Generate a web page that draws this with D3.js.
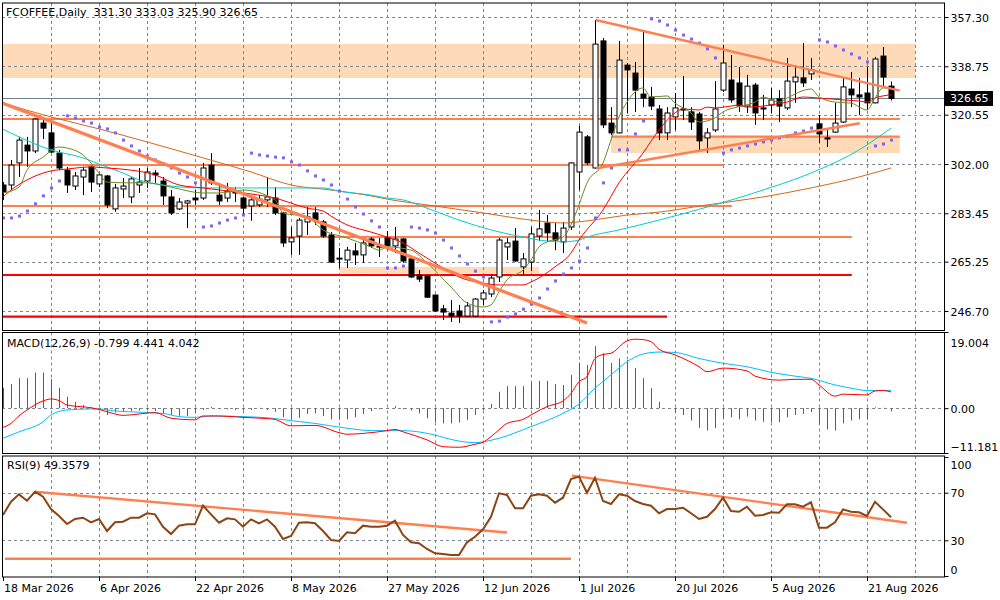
<!DOCTYPE html>
<html>
<head>
<meta charset="utf-8">
<script src="https://cdn.jsdelivr.net/npm/d3@7"></script>
<style>
  body { margin: 0; background: #fff; }
  svg text { font-family: "DejaVu Sans", sans-serif; font-size: 11px; fill: #000; }
</style>
</head>
<body>
<div id="chart"></div>
<script>
// ---- data (bar index 0 = 18 Mar 2026) ----
const opens = [294.1,294.1,302.4,309.1,306.9,317.4,313.7,306.1,299.7,293.7, 297.1,300.9,294.5,297.5,285.1,292.6,289.6,294.1,295.6,298.6,
  295.6,289.6,285.1,287.3,289.2,289.2,301.6,290.3,289.2,291.5, 289.2,286.2,286.6,288.5,289.2,283.6,272.7,274.9,280.2,283.6,
  280.2,275.3,266.6,265.9,269.3,267.8,273.8,270.8,274.2,271.2, 273.8,266.3,260.2,259.9,252.7,247.5,245.9,246.7,244.8,244.8,
  251.2,253.1,259.5,270.8,273.0,263.3,265.1,274.9,279.8,276.1, 272.7,278.3,299.0,312.2,300.5,348.3,317.4,313.7,339.2,336.2,
  328.3,327.2,322.7,313.7,319.7,322.7,321.6,320.8,311.8,314.8, 329.8,333.6,332.5,323.8,331.7,323.1,324.2,326.5,323.1,332.9,
  334.4,335.9,317.1,311.8,314.0,317.8,330.2,328.0,328.7,325.0, 342.6,331.30];
const highs = [295.2,303.5,312.2,312.2,319.3,318.9,317.4,307.3,300.9,299.0, 300.9,301.3,298.6,297.9,294.5,296.7,297.1,300.5,300.5,299.7,
  297.1,292.2,289.2,288.5,292.2,302.4,306.1,294.9,294.9,293.3, 289.6,290.3,290.3,297.1,293.3,284.0,278.3,281.7,285.8,285.8,
  280.9,276.4,270.4,270.8,272.3,274.2,274.5,274.2,276.8,278.3, 274.2,266.5,262.1,260.2,252.9,249.0,250.8,249.0,250.1,251.6,
  254.6,260.6,274.2,274.2,277.9,268.5,278.3,284.7,282.8,279.8, 280.2,302.6,316.3,312.9,356.2,349.4,323.4,348.3,340.0,340.4,
  352.0,331.0,324.2,323.4,328.7,335.1,323.4,321.6,315.5,333.2, 346.8,343.0,338.5,335.5,332.5,328.0,330.6,329.8,341.9,339.2,
  347.5,341.9,320.4,314.8,325.0,334.7,336.6,334.4,338.5,342.3, 346.0,333.03];
const lows = [288.5,292.2,297.1,300.9,306.1,311.4,306.1,299.7,291.1,292.2, 290.3,291.5,293.3,285.4,284.0,289.2,287.3,291.1,293.0,294.9,
  286.6,282.8,284.7,277.9,286.6,288.5,294.1,286.6,287.7,287.7, 282.8,280.6,285.8,285.8,282.8,270.8,267.8,267.8,275.3,279.1,
  274.2,264.8,262.9,262.9,264.0,264.8,270.4,267.0,269.6,268.5, 264.8,259.1,257.6,251.6,246.3,243.3,242.6,242.2,244.6,244.4,
  249.0,252.0,257.6,265.9,265.3,260.2,261.7,273.0,272.7,269.6, 268.5,277.2,292.2,301.6,300.3,315.5,312.9,313.5,321.2,321.6,
  323.4,322.3,311.0,311.0,314.8,318.6,314.8,307.3,306.1,314.0, 329.1,325.0,321.6,321.2,316.7,318.6,321.2,317.8,322.3,325.0,
  331.0,333.6,309.9,308.4,313.7,317.4,323.4,320.4,322.3,324.8, 330.6,325.90];
const closes = [291.5,301.6,311.0,306.9,318.9,315.5,306.5,300.5,294.1,297.5, 299.7,295.2,297.9,286.6,293.0,293.7,296.4,295.2,299.0,297.9,
  290.0,283.6,287.7,288.1,288.5,300.5,294.9,288.1,291.8,291.1, 285.4,288.5,288.8,289.6,283.6,272.3,274.2,280.9,282.1,280.9,
  274.9,265.1,266.3,269.6,267.8,272.3,271.2,271.1,271.2,273.8, 265.5,259.5,258.7,251.9,246.7,246.3,244.8,244.8,248.6,251.2,
  253.5,259.1,273.4,272.3,265.5,266.3,275.7,277.6,276.1,273.4, 277.9,302.4,314.0,302.4,347.1,316.7,313.7,341.1,337.4,329.8,
  326.8,323.8,313.7,321.2,323.1,322.3,317.8,310.7,313.7,322.7, 340.0,326.1,323.8,331.3,321.2,322.7,326.1,323.8,333.2,334.7,
  332.5,337.4,313.3,311.4,317.4,331.0,328.0,327.2,325.0,341.5, 334.7,326.65];

// parabolic SAR, one per bar
const sar = [281.7,281.7,282.4,284.3,287.0,290.0,293.0,295.6,320.1,319.3, 318.2,317.4,315.9,315.2,313.7,311.0,308.8,306.9,305.0,303.5,
  302.0,300.5,298.6,297.1,294.9,278.3,278.7,279.8,280.9,281.7, 282.8,306.1,305.4,305.0,304.6,304.3,302.8,301.6,299.4,297.5,
  296.0,294.1,291.8,288.8,285.8,283.2,280.6,278.3,262.9,262.9, 263.6,278.3,277.9,277.2,276.0,273.4,270.4,267.4,264.4,261.7,
  259.5,242.6,242.9,244.4,245.6,247.4,249.3,251.6,255.0,258.0, 260.6,262.9,265.5,270.4,281.7,294.9,300.5,307.3,307.3,313.3,
  318.2,356.6,355.8,354.3,352.4,350.5,349.0,347.5,345.3,341.9, 306.1,307.3,308.0,308.8,309.5,310.3,311.0,311.8,312.5,313.7,
  314.4,315.5,348.7,347.9,346.4,344.9,343.4,341.9,340.4,308.8, 309.5,311.0];

// moving averages, [bar, price] read at intervals
const maRed = [[0,289.6],[1,292.2],[3,296.0],[6,299.4],[8,300.1],[11,300.9],[13,300.5],[16,299.7],[19,297.9],[22,294.1],[25,293.0],
  [29,291.5],[32,290.3],[34,289.2],[36,287.3],[38,285.4],[40,284.3],[41,282.4],[43,279.1],[46,276.4],[48,274.5],[50,272.3],
  [52,268.5],[55,262.9],[57,259.5],[60,257.2],[62,256.5],[65,256.5],[66,257.6],[69,263.3],[71,268.5],[72,273.4],[75,284.7],
  [77,294.9],[80,306.1],[82,314.8],[84,321.2],[85,322.7],[87,322.3],[88,323.4],[89,323.1],[91,323.8],[92,324.2],[93,323.4],
  [96,324.2],[98,325.3],[100,327.2],[102,326.8],[105,326.1],[107,325.7],[108,325.3],[109,326.8],[111,328.0]];
const maOlive = [[0,291.1],[2,293.3],[3,299.7],[5,304.6],[7,308.4],[8,308.0],[10,305.4],[11,302.4],[12,298.6],[13,295.2],[16,294.9],
  [18,294.9],[21,293.3],[25,291.1],[27,291.1],[30,292.2],[34,288.5],[35,283.6],[38,282.1],[40,277.2],[43,274.2],[46,270.8],
  [47,269.6],[48,270.8],[51,269.6],[53,264.8],[56,255.7],[58,249.7],[60,248.2],[61,249.0],[62,253.9],[63,258.4],[65,262.1],
  [66,265.9],[67,270.8],[68,272.7],[70,274.5],[71,279.1],[72,286.6],[73,294.9],[75,302.4],[76,311.0],[77,319.7],[78,325.3],
  [80,330.6],[81,327.2],[83,327.6],[84,324.9],[86,321.2],[87,317.8],[89,319.3],[90,321.6],[92,323.6],[94,325.3],[95,327.2],
  [97,325.3],[98,326.8],[101,330.2],[102,327.2],[104,325.3],[106,324.9],[108,322.3],[109,326.8],[110,330.6],[111,330.6]];
const maCyan = [[0,315.1],[2,312.2],[6,307.3],[10,304.3],[12,302.0],[15,298.6],[17,296.0],[20,294.1],[25,293.0],[33,293.0],
  [40,293.0],[42,291.8],[46,290.3],[48,289.2],[50,288.5],[53,285.4],[57,280.9],[61,277.2],[65,274.5],[67,273.4],[70,272.7],
  [72,273.4],[73,274.5],[77,277.2],[82,280.9],[88,285.8],[95,292.2],[101,298.6],[107,307.3],[111,315.5]];
const maBrown = [[0,324.9],[6,319.7],[12,315.2],[18,310.3],[25,304.3],[31,299.0],[36,294.1],[41,292.2],[46,290.0],[48,288.8],
  [53,286.6],[60,283.6],[66,280.9],[70,279.8],[73,280.6],[78,282.8],[82,283.9],[88,286.6],[95,289.6],[101,293.0],[107,297.1],[111,300.5]];

// MACD panel
const macdHist = [5.1,6.0,7.5,7.5,8.9,8.9,7.3,5.1,2.9,1.6, 0.8,0.3,0.0,-1.7,-1.1,-0.9,-0.7,-0.6,-0.45,-0.7,
  -1.2,-1.7,-1.9,-1.95,-1.2,-0.45,0.3,-0.2,-0.3,-0.45, -0.6,-0.45,0.1,-0.45,-0.9,-2.3,-2.9,-2.4,-1.45,-1.3,
  -1.95,-2.8,-2.9,-2.8,-2.3,-1.45,-0.7,-0.3,-0.1,0.5, -0.3,-0.6,-1.3,-2.5,-3.5,-3.8,-3.8,-3.6,-2.9,-1.7,
  -0.45,1.05,4.1,5.5,5.5,5.5,6.4,6.8,6.8,6.0, 5.8,8.3,11.3,10.8,15.5,13.7,11.3,12.4,12.0,10.0,
  7.5,5.0,1.6,0.05,-1.1,-1.7,-3.1,-4.9,-5.6,-5.0, -2.5,-2.3,-2.8,-2.1,-3.1,-3.4,-3.5,-3.5,-2.3,-1.7,
  -1.45,-0.95,-3.8,-5.3,-5.6,-3.8,-3.1,-2.8,-2.8,0.2, 0.1,-0.799];
const macdRed = [[0,-4.8],[1,-3.8],[2,-1.9],[3,-0.45],[5,1.8],[6,2.3],[7,1.9],[8,0.8],[11,0.1],[12,-0.3],[14,-1.45],[15,-1.8],
  [17,-1.45],[19,-1.1],[21,-2.5],[24,-2.9],[25,-1.95],[27,-1.95],[30,-2.3],[33,-2.6],[34,-2.8],[36,-4.4],[39,-4.3],[42,-6.1],
  [43,-6.5],[45,-6.3],[48,-5.6],[49,-5.3],[50,-5.9],[53,-7.9],[55,-9.6],[57,-9.75],[59,-9.0],[60,-8.5],[61,-7.1],[62,-5.4],
  [63,-3.8],[65,-2.8],[66,-1.7],[68,0.4],[70,1.8],[71,3.7],[72,6.6],[73,7.9],[74,12.4],[75,13.4],[76,13.7],[78,16.8],[79,17.2],
  [80,17.1],[81,16.6],[82,14.7],[84,13.3],[87,10.35],[88,9.1],[90,10.0],[93,9.3],[94,8.0],[97,7.0],[99,7.2],[101,7.2],[102,5.8],
  [104,3.0],[105,3.5],[108,3.3],[109,4.3],[110,4.4],[111,4.042]];
const macdBlue = [[0,-7.5],[2,-5.9],[5,-3.4],[6,-1.7],[8,-0.45],[11,-0.2],[12,-0.2],[14,-0.7],[17,-1.0],[20,-1.3],[22,-2.1],
  [24,-2.3],[26,-1.95],[30,-2.1],[33,-2.4],[36,-3.1],[39,-3.8],[43,-5.0],[46,-5.6],[50,-5.6],[54,-6.7],[56,-7.8],[59,-8.6],
  [60,-8.4],[62,-7.5],[66,-4.6],[70,-1.3],[72,1.05],[74,5.0],[76,8.3],[78,11.6],[80,13.5],[82,14.0],[84,13.9],[87,12.4],
  [90,11.2],[93,10.35],[96,8.95],[99,8.0],[101,7.45],[104,5.8],[106,5.0],[108,4.4],[111,4.441]];

// RSI(9), one per bar
const rsi = [51.3,62.4,68.6,63.3,70.8,66.6,56.3,50.4,43.7,47.9, 49.0,45.1,47.9,37.8,45.1,45.6,49.0,49.0,52.7,51.8,
  41.4,35.3,42.3,43.4,43.4,59.1,51.8,44.8,48.5,47.6, 41.4,47.6,44.3,47.6,41.4,31.1,33.6,44.8,45.1,44.3,
  37.8,30.3,29.4,36.7,35.9,42.3,41.4,41.4,42.3,46.5, 34.5,28.3,27.5,22.7,19.1,18.5,17.6,17.6,28.3,33.0,
  39.2,49.8,69.5,68.1,56.9,57.0,67.5,68.7,67.5,61.6, 65.8,81.5,83.5,70.0,82.6,63.0,60.5,68.7,67.5,63.0,
  60.5,59.1,52.7,56.3,56.3,57.4,52.7,47.9,49.8,56.3, 65.8,54.6,54.0,58.2,50.7,51.3,53.5,53.2,60.2,60.2,
  58.2,61.9,40.6,40.6,45.1,56.0,54.0,53.5,50.4,62.4, 56.0,49.3579];

// drawn objects: [startBar, endBar, low, high] zones; levels; trendlines [[bar,value],[bar,value]]
const zones = [[-1, 114, 334.36, 347.15], [76, 112.1, 306.14, 312.27], [42.1, 67, 260.99, 263.25]];
const orangeLevels = [318.93, 301.63, 286.2, 274.54, 312.27];
const orangeLevelFrom = [-1, -1, -1, -1, 76];
const orangeLevelTo = [112.1, 90, 91.1, 106.1, 112.1];
const redLevels = [260.24, 244.56];
const redLevelTo = [106.1, 83];
const priceTrends = [[[-0.1, 324.95], [73, 242.19]], [[74.1, 356.18], [112.1, 329.58]], [[74.2, 300.39], [107.1, 317.31]]];
const rsiTrends = [[[4, 70.8], [63, 36.5]], [[0.25, 14.5], [71, 14.5]], [[71.1, 84.3], [113, 44.8]]];

const lastPrice = 326.65;
const priceTicks = [357.30, 338.75, 320.55, 302.00, 283.45, 265.25, 246.70];
const macdTicks = [19.004, 0, -11.181];
const rsiTicks = [100, 70, 30, 0];
const dateBars = [0, 12, 24, 36, 48, 60, 72, 84, 96, 108];
const dateLabels = ["18 Mar 2026", "6 Apr 2026", "22 Apr 2026", "8 May 2026", "27 May 2026",
  "12 Jun 2026", "1 Jul 2026", "20 Jul 2026", "5 Aug 2026", "21 Aug 2026"];

// ---- layout ----
const L = 2, R = 944;
const panels = {
  main: { top: 3, bottom: 330.5 },
  macd: { top: 332.5, bottom: 453.5 },
  rsi: { top: 456, bottom: 577 }
};
const coral = "#ff7f50", peach = "#ffdab9", gridCol = "#7a8898";

const svg = d3.select("#chart").append("svg")
  .attr("width", 1000).attr("height", 600);

const x = d3.scaleLinear().domain([0, (R - 3) / 8]).range([3, R]);
const y = d3.scaleLinear().domain([246.70, 357.30]).range([311, 17]);
const yM = d3.scaleLinear().domain([-11.181, 19.004]).range([453, 332]);
const yR = d3.scaleLinear().domain([0, 100]).range([576, 457]);

// clip paths
const defs = svg.append("defs");
Object.entries(panels).forEach(([k, p]) => {
  defs.append("clipPath").attr("id", "clip-" + k)
    .append("rect").attr("x", L).attr("y", p.top).attr("width", R - L).attr("height", p.bottom - p.top);
});
const gMain = svg.append("g").attr("clip-path", "url(#clip-main)");
const gMacd = svg.append("g").attr("clip-path", "url(#clip-macd)");
const gRsi = svg.append("g").attr("clip-path", "url(#clip-rsi)");

// zones (behind grid)
gMain.selectAll(".zone").data(zones).join("rect")
  .attr("x", d => x(d[0])).attr("width", d => x(d[1]) - x(d[0]))
  .attr("y", d => y(d[3])).attr("height", d => y(d[2]) - y(d[3]))
  .attr("fill", peach);

// grid
const vGrid = d3.range(6, 115, 6);
[[gMain, panels.main], [gMacd, panels.macd], [gRsi, panels.rsi]].forEach(([g, p]) => {
  g.selectAll(".vg").data(vGrid).join("line")
    .attr("x1", d => Math.round(x(d)) + 0.5).attr("x2", d => Math.round(x(d)) + 0.5)
    .attr("y1", p.top).attr("y2", p.bottom)
    .attr("stroke", gridCol).attr("stroke-dasharray", "3,3");
});
const hGrid = (g, vals, sc) => g.selectAll(".hg").data(vals).join("line")
  .attr("x1", L).attr("x2", R)
  .attr("y1", d => Math.round(sc(d)) + 0.5).attr("y2", d => Math.round(sc(d)) + 0.5)
  .attr("stroke", gridCol).attr("stroke-dasharray", "3,3");
hGrid(gMain, priceTicks, y);
hGrid(gMacd, [0], yM);
hGrid(gRsi, [70, 30], yR);

// bid line
gMain.append("line").attr("x1", L).attr("x2", R)
  .attr("y1", Math.round(y(lastPrice)) + 0.5).attr("y2", Math.round(y(lastPrice)) + 0.5)
  .attr("stroke", "#708090");

// horizontal levels
gMain.selectAll(".olev").data(orangeLevels).join("line")
  .attr("x1", (d, i) => x(orangeLevelFrom[i])).attr("x2", (d, i) => x(orangeLevelTo[i]))
  .attr("y1", d => y(d)).attr("y2", d => y(d))
  .attr("stroke", coral).attr("stroke-width", 2.2);
gMain.selectAll(".rlev").data(redLevels).join("line")
  .attr("x1", x(-1)).attr("x2", (d, i) => x(redLevelTo[i]))
  .attr("y1", d => y(d)).attr("y2", d => y(d))
  .attr("stroke", "#ff0000").attr("stroke-width", 2.2);

// candles
const bars = opens.map((o, i) => ({ i, o, h: highs[i], l: lows[i], c: closes[i] }));
const cg = gMain.selectAll(".candle").data(bars).join("g");
cg.append("line")
  .attr("x1", d => x(d.i) + 0.5).attr("x2", d => x(d.i) + 0.5)
  .attr("y1", d => y(d.h)).attr("y2", d => y(d.l))
  .attr("stroke", "#000");
cg.append("rect")
  .attr("x", d => x(d.i) - 2).attr("width", 5)
  .attr("y", d => y(Math.max(d.o, d.c)))
  .attr("height", d => Math.max(1, Math.abs(y(d.o) - y(d.c))))
  .attr("fill", d => d.c >= d.o ? "#fff" : "#000")
  .attr("stroke", "#000");

// moving averages
const maLine = d3.line().x(d => x(d[0])).y(d => y(d[1])).curve(d3.curveMonotoneX);
[[maBrown, "#d2691e"], [maCyan, "#00ced1"], [maRed, "#ff0000"], [maOlive, "#6b8e23"]].forEach(([data, col]) => {
  gMain.append("path").datum(data).attr("d", maLine)
    .attr("fill", "none").attr("stroke", col).attr("stroke-width", 1);
});

// parabolic SAR
gMain.selectAll(".sar").data(sar).join("rect")
  .attr("x", (d, i) => x(i) - 1).attr("y", d => y(d) - 1.5)
  .attr("width", 3).attr("height", 3)
  .attr("fill", "#7b68ee");

// trendlines
const segLine = (sx, sy) => d3.line().x(d => sx(d[0])).y(d => sy(d[1]));
gMain.selectAll(".trend").data(priceTrends).join("path")
  .attr("d", segLine(x, y))
  .attr("stroke", coral).attr("fill", "none")
  .attr("stroke-width", (d, i) => i === 0 ? 3.2 : 2.4);

// MACD
gMacd.selectAll(".hist").data(macdHist).join("line")
  .attr("x1", (d, i) => x(i) + 0.5).attr("x2", (d, i) => x(i) + 0.5)
  .attr("y1", yM(0)).attr("y2", d => yM(d))
  .attr("stroke", "#556b2f");
const mLine = d3.line().x(d => x(d[0])).y(d => yM(d[1])).curve(d3.curveMonotoneX);
gMacd.append("path").datum(macdBlue).attr("d", mLine).attr("fill", "none").attr("stroke", "#00bfff");
gMacd.append("path").datum(macdRed).attr("d", mLine).attr("fill", "none").attr("stroke", "#ff0000");

// RSI
gRsi.selectAll(".rtrend").data(rsiTrends).join("path")
  .attr("d", segLine(x, yR)).attr("stroke", coral).attr("fill", "none").attr("stroke-width", 2.4);
gRsi.append("path").datum(rsi)
  .attr("d", d3.line().x((d, i) => x(i)).y(d => yR(d)))
  .attr("fill", "none").attr("stroke", "#8b4513").attr("stroke-width", 2);

// panel frames
Object.values(panels).forEach(p => {
  svg.append("rect").attr("x", L + 0.5).attr("y", p.top).attr("width", R - L)
    .attr("height", p.bottom - p.top).attr("fill", "none").attr("stroke", "#000");
});

// right axes
const mkAxis = (sc, vals, fmt, shift) => {
  const g = svg.append("g").attr("transform", `translate(${R + 0.5},0)`)
    .call(d3.axisRight(sc).tickValues(vals).tickFormat(fmt).tickSize(4).tickPadding(2));
  g.select(".domain").remove();
  g.selectAll("text").style("font-size", "11px").attr("dy", (d, i) => (shift ? shift[i] : 0) + 4);
  g.selectAll("line").attr("stroke", "#000");
  return g;
};
mkAxis(y, priceTicks, d3.format(".2f"));
mkAxis(yM, macdTicks, d => d === 0 ? "0.00" : d3.format(".3f")(d), [10, 0, -7]);
mkAxis(yR, rsiTicks, d3.format("d"), [7, 0, 0, -7]);

// last price tag
const yp = y(lastPrice);
svg.append("rect").attr("x", R + 1).attr("y", yp - 7.5).attr("width", 48).attr("height", 15).attr("fill", "#000");
svg.append("text").attr("x", R + 6).attr("y", yp + 4).style("fill", "#fff").text(d3.format(".2f")(lastPrice));

// date axis
const dg = svg.append("g");
dg.selectAll("line").data(dateBars).join("line")
  .attr("x1", d => x(d) + 0.5).attr("x2", d => x(d) + 0.5)
  .attr("y1", panels.rsi.bottom).attr("y2", panels.rsi.bottom + 4).attr("stroke", "#000");
dg.selectAll("text").data(dateBars).join("text")
  .attr("x", d => x(d) + 1).attr("y", 592)
  .text((d, i) => dateLabels[i]);

// titles
svg.append("text").attr("x", 6).attr("y", 16)
  .text(`FCOFFEE,Daily  ${d3.format(".2f")(opens[111])} ${highs[111]} ${d3.format(".2f")(lows[111])} ${closes[111]}`)
  .attr("xml:space", "preserve").style("white-space", "pre");
svg.append("text").attr("x", 7).attr("y", 347)
  .text(`MACD(12,26,9) ${macdHist[111]} ${macdBlue[macdBlue.length - 1][1]} ${macdRed[macdRed.length - 1][1]}`);
svg.append("text").attr("x", 7).attr("y", 469).text(`RSI(9) ${rsi[111]}`);
</script>
</body>
</html>
